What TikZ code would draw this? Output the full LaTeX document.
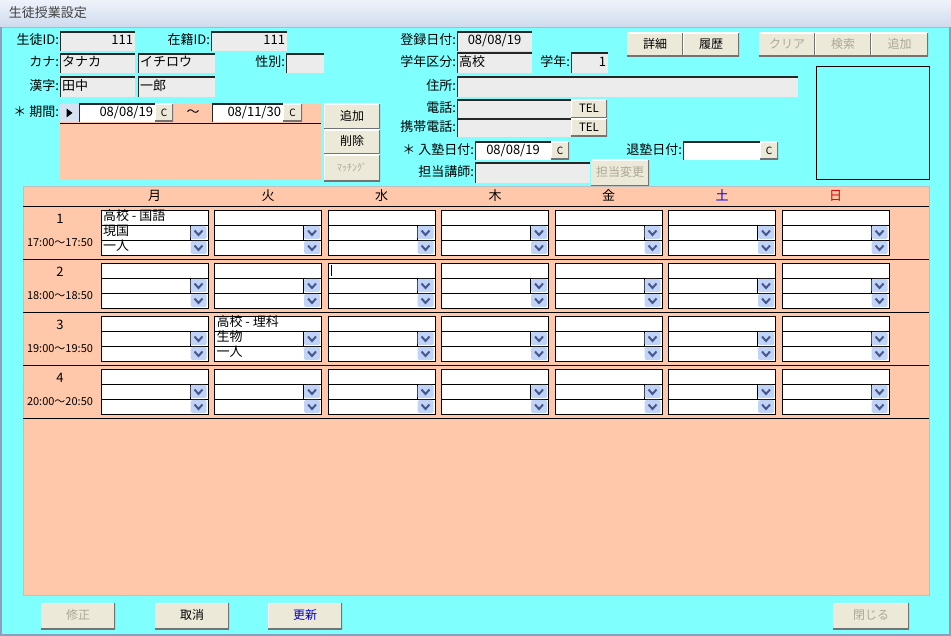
\documentclass[tikz,border=0pt]{standalone}
\usepackage{fontspec}
\setmainfont{Noto Sans CJK JP}
\usetikzlibrary{positioning}

\definecolor{formcyan}{RGB}{128,255,255}
\definecolor{salmon}{RGB}{255,200,170}
\definecolor{fieldbg}{RGB}{236,236,236}
\definecolor{btnface}{RGB}{236,233,216}
\definecolor{dimtext}{RGB}{172,168,153}
\definecolor{selblue}{RGB}{214,226,242}
\definecolor{dropblue}{RGB}{193,211,246}
\definecolor{chevblue}{RGB}{70,88,140}
\definecolor{titletop}{RGB}{238,243,250}
\definecolor{titlebot}{RGB}{206,219,238}
\definecolor{titleline}{RGB}{150,190,225}
\definecolor{winframe}{RGB}{140,160,190}
\definecolor{satblue}{RGB}{0,0,230}
\definecolor{sunred}{RGB}{220,0,0}

\newcommand{\uifont}{\fontsize{13}{15}\selectfont}
\newcommand{\btnfont}{\fontsize{12}{14}\selectfont}
\newcommand{\smallui}{\fontsize{10}{12}\selectfont}
\newcommand{\telfont}{\fontsize{11.5}{13}\selectfont}
\newcommand{\timefont}{\fontsize{11}{13}\selectfont}

\begin{document}
\begin{tikzpicture}[
		x=1pt, y=-1pt,
		every node/.style={font=\uifont, inner sep=0pt, outer sep=0pt, text height=10pt, text depth=3pt},
		sunken/.style={path picture={\draw[line width=2pt, black!85] (path picture bounding box.south west) |- (path picture bounding box.north east);}},
		raised/.style={path picture={
				\draw[line width=2pt, white] (path picture bounding box.south west) |- (path picture bounding box.north east);
				\draw[line width=3pt, black!55] (path picture bounding box.south west) -| (path picture bounding box.north east);}},
		fld/.style={anchor=north west, fill=fieldbg, inner xsep=2pt, minimum height=19pt, sunken},
		btn/.style={anchor=north west, fill=btnface, minimum width=56pt, minimum height=25pt, font=\btnfont, raised},
		dimbtn/.style={btn, text=dimtext},
		cbtn/.style={btn, minimum width=18pt, minimum height=18pt, font=\smallui, text height=7pt, text depth=0pt},
		subform/.style={anchor=north west, fill=salmon, text height=0pt, text depth=0pt},
		cell/.style={anchor=north west, draw=black, fill=white, minimum width=107pt, minimum height=45pt, text height=0pt, text depth=0pt},
		dropbtn/.style={fill=dropblue, rounded corners=1.5pt, minimum width=16pt, minimum height=13pt, text height=0pt, text depth=0pt,
			path picture={\draw[chevblue, line width=2pt, sharp corners] ([xshift=-4pt,yshift=2pt]path picture bounding box.center) -- ([yshift=-2.5pt]path picture bounding box.center) -- ([xshift=4pt,yshift=2pt]path picture bounding box.center);}},
		celltext/.style={anchor=west}
		]
		\useasboundingbox (0,0) rectangle (951,636);
		
		% Window
		\fill[formcyan] (0,0) rectangle (951,636);
		\shade[top color=titletop, bottom color=titlebot] (0,0) rectangle (951,27);
		\draw[titleline] (0,27) -- (951,27);
		\draw[winframe, line width=2pt] (1,27) -- (1,635) -- (950,635) -- (950,27);
		\node[anchor=west, text=black!75] (title) at (9,14) {生徒授業設定};
		
		% Student
		\node[fld, text width=71pt, align=right] (sid) at (60,32) {111};
		\node[left=1pt of sid] (sidl) {生徒ID:};
		\node[fld, text width=72pt, align=right] (zid) at (211,32) {111};
		\node[left=1pt of zid] (zidl) {在籍ID:};
		\node[fld, text width=71pt, align=left] (kana1) at (60,54) {タナカ};
		\node[left=1pt of kana1] (kanal) {カナ:};
		\node[fld, text width=73pt, align=left] (kana2) at (138,54) {イチロウ};
		\node[fld, text width=34pt] (sex) at (286,54) {};
		\node[left=1pt of sex] (sexl) {性別:};
		\node[fld, text width=71pt, align=left, minimum height=20pt] (kanji1) at (60,77) {田中};
		\node[left=1pt of kanji1] (kanjil) {漢字:};
		\node[fld, text width=73pt, align=left, minimum height=20pt] (kanji2) at (138,77) {一郎};
		
		% Period subform
		\node[subform, minimum width=261pt, minimum height=76pt] (kikan) at (60,104) {};
		\node[anchor=east] (kikanl) at (59,113) {＊ 期間:};
		\node[anchor=north west, fill=selblue, minimum width=19pt, minimum height=18pt, text height=0pt, text depth=0pt] (recsel) at (60,104) {};
		\fill ([xshift=-3pt,yshift=4.5pt]recsel.center) -- ([xshift=-3pt,yshift=-4.5pt]recsel.center) -- ([xshift=3pt]recsel.center) -- cycle;
		\node[fld, fill=white, text width=72pt, align=right, minimum height=18pt] (kfrom) at (79,104) {08/08/19};
		\node[cbtn] (kfromc) at (kfrom.north east) {C};
		\node (tilde) at (193,113) {～};
		\node[fld, fill=white, text width=67pt, align=right, minimum height=18pt] (kto) at (212,104) {08/11/30};
		\node[cbtn, minimum width=19pt] (ktoc) at (kto.north east) {C};
		\draw ([yshift=-19pt]kikan.north west) -- ([yshift=-19pt]kikan.north east);
		\node[btn, minimum height=26pt] (addk) at (324,104) {追加};
		\node[btn] (delk) at (324,130) {削除};
		\node[dimbtn, minimum height=27pt, font=\smallui] (match) at (324,155) {ﾏｯﾁﾝｸﾞ};
		
		% Registration
		\node[fld, text width=71pt, align=center] (reg) at (457,32) {08/08/19};
		\node[left=1pt of reg] (regl) {登録日付:};
		\node[fld, text width=71pt, align=left, minimum height=20pt] (grade) at (457,53) {高校};
		\node[left=1pt of grade] (gradel) {学年区分:};
		\node[fld, text width=33pt, align=right, minimum height=20pt] (year) at (571,53) {1};
		\node[left=1pt of year] (yearl) {学年:};
		\node[fld, text width=337pt, minimum height=20pt] (addr) at (457,77) {};
		\node[left=1pt of addr] (addrl) {住所:};
		\node[fld, text width=110pt] (tel) at (457,100) {};
		\node[left=1pt of tel] (tell) {電話:};
		\node[btn, minimum width=36pt, minimum height=19pt, font=\telfont] (telb) at (tel.north east) {TEL};
		\node[fld, text width=110pt, minimum height=18pt] (mob) at (457,119) {};
		\node[left=1pt of mob] (mobl) {携帯電話:};
		\node[btn, minimum width=36pt, minimum height=18pt, font=\telfont] (mobb) at (mob.north east) {TEL};
		\node[fld, fill=white, text width=72pt, align=center, minimum height=18pt] (join) at (475,142) {08/08/19};
		\node[left=1pt of join] (joinl) {＊ 入塾日付:};
		\node[cbtn] (joinc) at (join.north east) {C};
		\node[fld, fill=white, text width=73pt, minimum height=18pt] (leave) at (683,142) {};
		\node[left=1pt of leave] (leavel) {退塾日付:};
		\node[cbtn] (leavec) at (leave.north east) {C};
		\node[fld, text width=111pt, minimum height=20pt] (tutor) at (475,163) {};
		\node[left=1pt of tutor] (tutorl) {担当講師:};
		\node[dimbtn, minimum width=58pt, minimum height=27pt] (chg) at (591,160) {担当変更};
		
		% Top buttons and photo
		\node[btn, minimum height=24pt] (detail) at (627,33) {詳細};
		\node[btn, minimum height=24pt] (hist) at (detail.north east) {履歴};
		\node[dimbtn, minimum height=24pt] (clear) at (759,33) {クリア};
		\node[dimbtn, minimum height=24pt] (search) at (clear.north east) {検索};
		\node[dimbtn, minimum height=24pt, minimum width=57pt] (addt) at (search.north east) {追加};
		\node[anchor=north west, draw=black, minimum width=113pt, minimum height=113pt, text height=0pt, text depth=0pt] (photo) at (816,66) {};
		
		% Schedule subform
		\node[subform, draw=black!25, minimum width=906pt, minimum height=409pt] (sched) at (23,186) {};
		\foreach \yy in {20,73,126,179,232}
			\draw ([yshift=-\yy]sched.north west) -- ([yshift=-\yy]sched.north east);
		\foreach \d/\col [count=\i from 0] in {月/black,火/black,水/black,木/black,金/black,土/satblue,日/sunred}
			\node[text=\col] (day-\i) at (154.5+113.5*\i, 197) {\d};
		\foreach \r/\h in {0/17,1/18,2/19,3/20} {
			\pgfmathtruncatemacro\n{\r+1}
			\node (no-\r) at (60, 220+53*\r) {\n};
			\node[font=\timefont] (time-\r) at (60, 243+53*\r) {\h:00～\h:50};
			\foreach \c in {0,...,6} {
				\node[cell] (cell-\r-\c) at (101+113.5*\c, 210+53*\r) {};
				\draw ([yshift=-15]cell-\r-\c.north west) -- ([yshift=-15]cell-\r-\c.north east);
				\draw ([yshift=-30]cell-\r-\c.north west) -- ([yshift=-30]cell-\r-\c.north east);
				\draw ([xshift=-18,yshift=-15]cell-\r-\c.north east) -- ([xshift=-18,yshift=-30]cell-\r-\c.north east);
				\node[dropbtn] (dd-\r-\c-a) at ([xshift=-9.5,yshift=-22.5]cell-\r-\c.north east) {};
				\node[dropbtn] (dd-\r-\c-b) at ([xshift=-9.5,yshift=-37.5]cell-\r-\c.north east) {};
			}
		}
		\draw ([xshift=3,yshift=-2]cell-1-2.north west) -- ++(0,11);
		\node[celltext] (mon-a) at ([xshift=2,yshift=-7.5]cell-0-0.north west) {高校 - 国語};
		\node[celltext] (mon-b) at ([xshift=2,yshift=-22.5]cell-0-0.north west) {現国};
		\node[celltext] (mon-c) at ([xshift=2,yshift=-37.5]cell-0-0.north west) {一人};
		\node[celltext] (tue-a) at ([xshift=2,yshift=-7.5]cell-2-1.north west) {高校 - 理科};
		\node[celltext] (tue-b) at ([xshift=2,yshift=-22.5]cell-2-1.north west) {生物};
		\node[celltext] (tue-c) at ([xshift=2,yshift=-37.5]cell-2-1.north west) {一人};
		
		% Bottom buttons
		\node[dimbtn, minimum width=74pt, minimum height=26pt] (fix) at (41,603) {修正};
		\node[btn, minimum width=74pt, minimum height=26pt] (cancel) at (155,603) {取消};
		\node[btn, minimum width=74pt, minimum height=26pt, text=blue!80!black] (update) at (268,603) {更新};
		\node[dimbtn, minimum width=76pt, minimum height=26pt] (close) at (833,603) {閉じる};
		
	\end{tikzpicture}
\end{document}
